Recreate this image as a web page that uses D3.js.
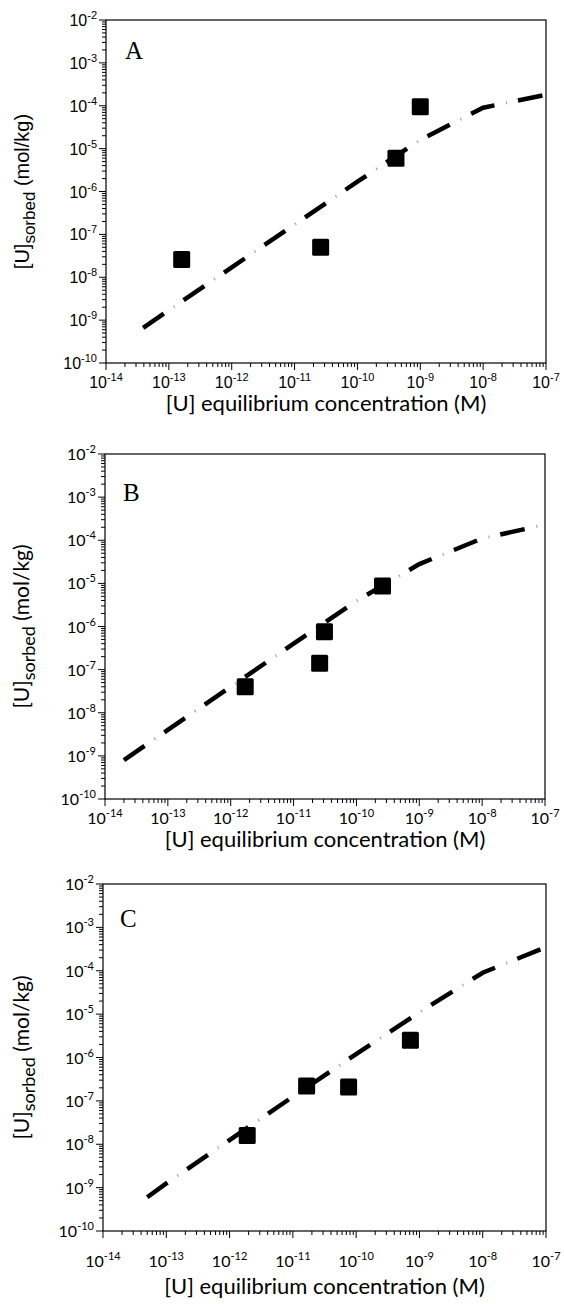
<!DOCTYPE html>
<meta charset="utf-8">
<script src="https://d3js.org/d3.v7.min.js"></script>
<body style="margin:0;background:#fff">
<svg id="chart" width="564" height="1304"></svg>
<script>
// decades on each axis
const xExps = [-14, -13, -12, -11, -10, -9, -8, -7];
const yExps = [-10, -9, -8, -7, -6, -5, -4, -3, -2];

// panel A : measured and model
const concA = [1.6e-13, 2.6e-11, 4.1e-10, 1.0e-9];
const sorbA = [2.6e-8, 5.0e-8, 6.0e-6, 9.5e-5];
const modelConcA = [3.9e-14, 1e-13, 1e-12, 1e-11, 1e-10, 1e-9, 1e-8, 1e-7];
const modelSorbA = [6.6e-10, 1.7e-9, 1.7e-8, 1.7e-7, 1.7e-6, 1.6e-5, 9e-5, 1.8e-4];

// panel B
const concB = [1.7e-12, 2.6e-11, 3.1e-11, 2.6e-10];
const sorbB = [4.0e-8, 1.4e-7, 7.6e-7, 8.7e-6];
const modelConcB = [2e-14, 1e-13, 1e-12, 1e-11, 1e-10, 1e-9, 1e-8, 1e-7];
const modelSorbB = [8e-10, 4e-9, 4e-8, 4e-7, 3.9e-6, 2.8e-5, 1.1e-4, 2.3e-4];

// panel C
const concC = [1.9e-12, 1.65e-11, 7.6e-11, 7.2e-10];
const sorbC = [1.6e-8, 2.2e-7, 2.1e-7, 2.5e-6];
const modelConcC = [5e-14, 1e-13, 1e-12, 1e-11, 1e-10, 1e-9, 1e-8, 1e-7];
const modelSorbC = [6e-10, 1.25e-9, 1.25e-8, 1.25e-7, 1.2e-6, 1.1e-5, 9e-5, 3.5e-4];

const arial = "Liberation Sans, Arial, sans-serif";
const calibri = "Lato, sans-serif";

const panels = [
  {letter: "A", conc: concA, sorb: sorbA, mConc: modelConcA, mSorb: modelSorbA,
   left: 106, right: 546, top: 20, bottom: 363, letterX: 125, letterY: 59,
   tickFont: arial, yFont: arial, tickGap: 19, titleGap: 41},
  {letter: "B", conc: concB, sorb: sorbB, mConc: modelConcB, mSorb: modelSorbB,
   left: 105, right: 545, top: 454, bottom: 799, letterX: 123, letterY: 501,
   tickFont: calibri, yFont: calibri, tickGap: 19, titleGap: 41},
  {letter: "C", conc: concC, sorb: sorbC, mConc: modelConcC, mSorb: modelSorbC,
   left: 103, right: 546, top: 884, bottom: 1231, letterX: 120, letterY: 927,
   tickFont: calibri, yFont: calibri, tickGap: 30, titleGap: 56}
];

const svg = d3.select("#chart");

function expLabel(sel, e, font) {
  sel.attr("font-family", font).attr("font-size", 16).attr("fill", "#000");
  sel.append("tspan").text("10");
  sel.append("tspan").attr("font-size", 11).attr("dy", -7).text(e);
}

panels.forEach(p => {
  const x = d3.scaleLog().domain([1e-14, 1e-7]).range([p.left, p.right]);
  const y = d3.scaleLog().domain([1e-10, 1e-2]).range([p.bottom, p.top]);
  const g = svg.append("g");

  // minor and major ticks
  const minors = [];
  for (let e = -14; e < -7; e++) for (let k = 2; k < 10; k++) minors.push(k * Math.pow(10, e));
  g.selectAll(".xmin").data(minors).join("line")
    .attr("x1", d => x(d)).attr("x2", d => x(d))
    .attr("y1", p.bottom).attr("y2", p.bottom + 4)
    .attr("stroke", "#000");
  g.selectAll(".xmaj").data(xExps).join("line")
    .attr("x1", d => x(Math.pow(10, d))).attr("x2", d => x(Math.pow(10, d)))
    .attr("y1", p.bottom).attr("y2", p.bottom + 7)
    .attr("stroke", "#000");

  const yMinors = [];
  for (let e = -10; e < -2; e++) for (let k = 2; k < 10; k++) yMinors.push(k * Math.pow(10, e));
  g.selectAll(".ymin").data(yMinors).join("line")
    .attr("x1", p.left - 4).attr("x2", p.left)
    .attr("y1", d => y(d)).attr("y2", d => y(d))
    .attr("stroke", "#000");
  g.selectAll(".ymaj").data(yExps).join("line")
    .attr("x1", p.left - 7).attr("x2", p.left)
    .attr("y1", d => y(Math.pow(10, d))).attr("y2", d => y(Math.pow(10, d)))
    .attr("stroke", "#000");

  // frame
  g.append("rect")
    .attr("x", p.left).attr("y", p.top)
    .attr("width", p.right - p.left).attr("height", p.bottom - p.top)
    .attr("fill", "none").attr("stroke", "#000").attr("stroke-width", 1.2);

  // tick labels
  g.selectAll(".xl").data(xExps).join("text")
    .attr("x", d => x(Math.pow(10, d)))
    .attr("y", p.bottom + p.tickGap + 6)
    .attr("text-anchor", "middle")
    .each(function(d) { expLabel(d3.select(this), d, p.tickFont); });
  g.selectAll(".yl").data(yExps).join("text")
    .attr("x", p.left - 9)
    .attr("y", d => y(Math.pow(10, d)) + 6)
    .attr("text-anchor", "end")
    .each(function(d) { expLabel(d3.select(this), d, p.tickFont); });

  // axis titles
  g.append("text")
    .attr("x", (p.left + p.right) / 2)
    .attr("y", p.bottom + p.titleGap + 7)
    .attr("text-anchor", "middle")
    .attr("font-family", calibri).attr("font-size", 22)
    .text("[U] equilibrium concentration (M)");

  const yt = g.append("text")
    .attr("transform", `translate(29,${(p.top + p.bottom) / 2}) rotate(-90)`)
    .attr("text-anchor", "middle")
    .attr("font-family", p.yFont)
    .attr("font-size", p.yFont === arial ? 20 : 21);
  yt.append("tspan").text("[U]");
  yt.append("tspan").attr("font-size", p.yFont === arial ? 17 : 18).attr("dy", 6).text("sorbed");
  yt.append("tspan").attr("dy", -6).text(" (mol/kg)");

  // panel letter
  g.append("text")
    .attr("x", p.letterX).attr("y", p.letterY)
    .attr("font-family", "Liberation Serif, Times New Roman, serif")
    .attr("font-size", 25)
    .text(p.letter);

  // model curve: long dashes with a faint dot in each gap
  const line = d3.line().x(d => x(d[0])).y(d => y(d[1]));
  const pts = d3.zip(p.mConc, p.mSorb);
  g.append("path")
    .datum(pts)
    .attr("d", line)
    .attr("fill", "none").attr("stroke", "#000")
    .attr("stroke-width", 4.5)
    .attr("stroke-dasharray", "25,24");
  g.append("path")
    .datum(pts)
    .attr("d", line)
    .attr("fill", "none").attr("stroke", "#999")
    .attr("stroke-width", 3)
    .attr("stroke-dasharray", "1,48")
    .attr("stroke-dashoffset", 12);

  // measured points
  g.selectAll(".pt").data(d3.zip(p.conc, p.sorb)).join("rect")
    .attr("x", d => x(d[0]) - 8.5).attr("y", d => y(d[1]) - 8.5)
    .attr("width", 17).attr("height", 17).attr("rx", 1.5)
    .attr("fill", "#000");
});
</script>
</body>
